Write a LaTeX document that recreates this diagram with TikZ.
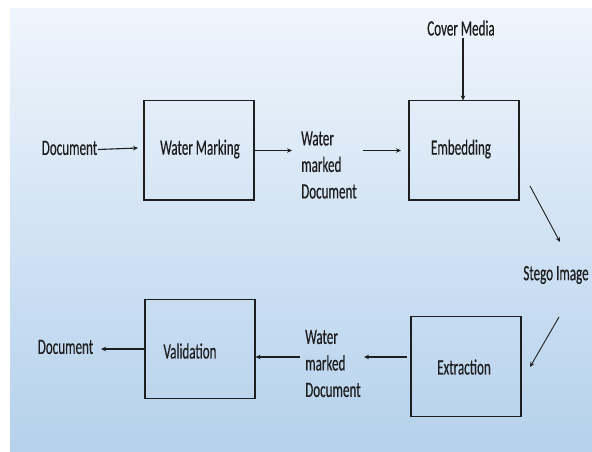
\documentclass[tikz,border=0pt]{standalone}
\usepackage{fontspec}
\setmainfont{Carlito}[FakeStretch=0.6,FakeBold=0.4]
\usetikzlibrary{arrows.meta}
\definecolor{bgtop}{RGB}{239,245,252}
\definecolor{bgbot}{RGB}{181,209,236}
\definecolor{ink}{RGB}{30,30,30}
\begin{document}
\begin{tikzpicture}[x=1pt,y=-1pt,
  lbl/.style={inner sep=0pt,text=ink,font=\fontsize{21.8}{26.5}\selectfont},
  blk/.style={draw=ink,line width=1.4pt,minimum width=110pt,minimum height=99.5pt,inner sep=0pt},
  conn/.style={draw=ink,line width=1.1pt,-{Stealth[length=5pt,width=4.5pt]}}]
\useasboundingbox (0,0) rectangle (592,452);
\fill[white] (0,0) rectangle (592,452);
\shade[top color=bgtop,bottom color=bgbot] (10,9) rectangle (592,451);
% boxes
\node[blk] (wm) at (199,150.3) {};
\node[blk] (emb) at (464,150.3) {};
\node[blk] (val) at (200,349) {};
\node[blk] (ext) at (466,366.5) {};
% box labels
\node[lbl] at (200,149) {Water Marking};
\node[lbl] at (461,149) {Embedding};
\node[lbl] at (190,351) {Validation};
\node[lbl] at (464,367) {Extraction};
% free labels
\node[lbl] (doc1) at (69.5,148) {Document};
\node[lbl,anchor=west,align=left] (wmd1) at (301,165) {Water\\marked\\Document};
\node[lbl] (cover) at (461,28) {Cover Media};
\node[lbl] (stego) at (556,275) {Stego Image};
\node[lbl] (wmd2) [anchor=west,align=left] at (305,363.5) {Water\\marked\\Document};
\node[lbl] (doc2) at (65.5,347) {Document};
% connector end points
\coordinate (a1) at (98,149.5);
\coordinate (a2) at (138,148);
\coordinate (b1) at (254.5,150.5);
\coordinate (b2) at (292,150.5);
\coordinate (c1) at (363,150.5);
\coordinate (c2) at (401,150.5);
\coordinate (d1) at (463,38);
\coordinate (d2) at (463,100.5);
\coordinate (e1) at (530,186);
\coordinate (e2) at (560,242);
\coordinate (f1) at (559,317);
\coordinate (f2) at (530,367);
\coordinate (g1) at (407,357);
\coordinate (g2) at (364,357);
\coordinate (h1) at (300,357);
\coordinate (h2) at (255.5,357);
\coordinate (i1) at (145,349);
\coordinate (i2) at (101,349);
\draw[conn] (a1) -- (a2);
\draw[conn] (b1) -- (b2);
\draw[conn] (c1) -- (c2);
\draw[conn] (d1) -- (d2);
\draw[conn,line width=0.9pt] (e1) -- (e2);
\draw[conn,line width=0.9pt] (f1) -- (f2);
\draw[conn] (g1) -- (g2);
\draw[conn] (h1) -- (h2);
\draw[conn] (i1) -- (i2);
\end{tikzpicture}
\end{document}
